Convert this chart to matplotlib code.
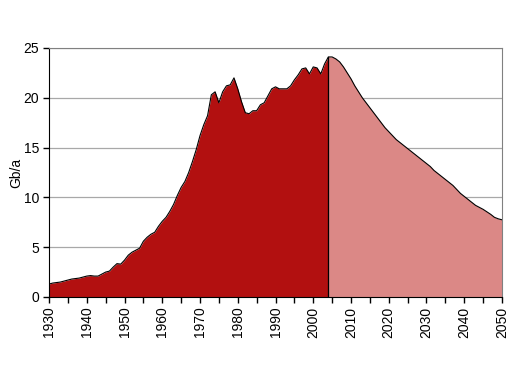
import numpy as np
import matplotlib
matplotlib.use('Agg')
import matplotlib.pyplot as plt
from matplotlib.ticker import MultipleLocator

plt.rcParams['font.family'] = ['Liberation Sans', 'DejaVu Sans']

# historical output, Gb/a
hist_years = list(range(1930, 2005))
hist_vals = [1.3, 1.4, 1.45, 1.5, 1.6, 1.7, 1.8, 1.85, 1.9, 2.0,
             2.1, 2.15, 2.1, 2.1, 2.3, 2.5, 2.6, 3.0, 3.35, 3.3,
             3.7, 4.2, 4.5, 4.7, 4.9, 5.6, 6.0, 6.3, 6.5, 7.1,
             7.6, 8.0, 8.6, 9.3, 10.2, 11.0, 11.6, 12.5, 13.6, 14.8,
             16.2, 17.3, 18.2, 20.3, 20.6, 19.5, 20.6, 21.2, 21.3, 22.0,
             20.9, 19.6, 18.5, 18.4, 18.7, 18.7, 19.3, 19.5, 20.2, 20.9,
             21.1, 20.9, 20.9, 20.9, 21.2, 21.8, 22.3, 22.9, 23.0, 22.4,
             23.1, 23.0, 22.4, 23.4, 24.1]

# projection
proj_years = list(range(2004, 2051))
proj_vals = [24.1, 24.1, 23.9, 23.6, 23.1, 22.5, 21.9, 21.2, 20.6, 20.0,
             19.5, 19.0, 18.5, 18.0, 17.5, 17.0, 16.6, 16.2, 15.8, 15.5,
             15.2, 14.9, 14.6, 14.3, 14.0, 13.7, 13.4, 13.1, 12.7, 12.4,
             12.1, 11.8, 11.5, 11.2, 10.8, 10.4, 10.1, 9.8, 9.5, 9.2,
             9.0, 8.8, 8.55, 8.3, 8.0, 7.85, 7.75]

fig = plt.figure(figsize=(5.1, 3.7), dpi=100)
ax = fig.add_axes([0.0961, 0.1973, 0.8882, 0.673])

ax.fill_between(hist_years, hist_vals, 0, color='#B21010', linewidth=0, zorder=2)
ax.fill_between(proj_years, proj_vals, 0, color='#DB8886', linewidth=0, zorder=2)
ax.plot(hist_years + proj_years[1:], hist_vals + proj_vals[1:], color='black', lw=0.8, zorder=3)
ax.plot([hist_years[-1], hist_years[-1]], [0, hist_vals[-1]], color='black', lw=0.9, zorder=3)

ax.set_xlim(1930, 2050)
ax.set_ylim(0, 25)
ax.xaxis.set_major_locator(MultipleLocator(10))
ax.xaxis.set_minor_locator(MultipleLocator(5))
ax.yaxis.set_major_locator(MultipleLocator(5))
ax.grid(axis='y', color='#A8A8A8', lw=0.9, zorder=1)

ax.tick_params(axis='x', which='both', direction='out', length=4, width=1, labelsize=10,
               labelrotation=90, pad=3)
ax.tick_params(axis='y', direction='out', length=4, width=1, labelsize=10, pad=3)

for s in ['top', 'right']:
    ax.spines[s].set_color('#808080')
for s in ['left', 'bottom']:
    ax.spines[s].set_color('black')

ax.set_ylabel('Gb/a', fontsize=10)
ax.yaxis.set_label_coords(-0.057, 0.5)

fig.savefig('out.png', dpi=100)
